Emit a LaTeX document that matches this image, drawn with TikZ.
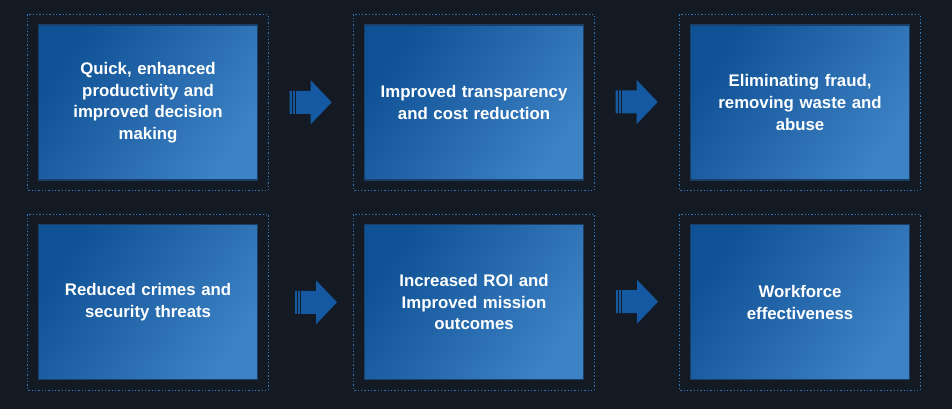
\documentclass[tikz,border=0pt]{standalone}
\usepackage{fontspec}
\setmainfont{Liberation Sans}
\definecolor{bg}{HTML}{131A23}
\definecolor{gA}{HTML}{0E5194}
\definecolor{gB}{HTML}{3D82C5}
\definecolor{edge}{HTML}{1A3F66}
\definecolor{dotc}{HTML}{3274B5}
\definecolor{arr}{HTML}{1459A2}
\pgfdeclarehorizontalshading{boxshade}{100bp}{color(0bp)=(gA); color(25bp)=(gA); color(75bp)=(gB); color(100bp)=(gB)}
\tikzset{
  innerbox/.style={draw=edge, line width=0.8pt, shading=boxshade, shading angle=-35},
  outerbox/.style={draw=dotc, line width=1pt, dash pattern=on 1pt off 1.5pt},
  label/.style={text=white, font=\bfseries\fontsize{12.6}{16.2}\selectfont, align=center, text width=150pt},
}
\newcommand{\stepbox}[4]{% name, x, y, text
  \draw[outerbox] (#2-10.5,#3-10.5) rectangle ++(240.5,176);
  \shade[innerbox] (#2,#3) rectangle ++(219.5,155);
  \node[label] (#1) at (#2+109.75,#3+77.5) {#4};
}
\newcommand{\flowarrow}[3]{% name, x, y (left, centre)
  \fill[arr] (#2,#3-11.5) -- (#2+21,#3-11.5) -- (#2+21,#3-22) -- (#2+42,#3) -- (#2+21,#3+22) -- (#2+21,#3+11.5) -- (#2,#3+11.5) -- cycle;
  \fill[bg] (#2+2.2,#3-12) rectangle (#2+3.1,#3+12);
  \fill[bg] (#2+5.0,#3-12) rectangle (#2+5.9,#3+12);
  \coordinate (#1) at (#2+21,#3);
}
\begin{document}
\begin{tikzpicture}[x=0.75pt,y=-0.75pt]
\fill[bg] (0,0) rectangle (952,409);
\useasboundingbox (0,0) rectangle (952,409);
\stepbox{b1}{38.3}{25}{Quick, enhanced\\productivity and\\improved decision\\making}
\stepbox{b2}{364.3}{25}{Improved transparency\\and cost reduction}
\stepbox{b3}{690.3}{25}{Eliminating fraud,\\removing waste and\\abuse}
\stepbox{b4}{38.3}{224.7}{Reduced crimes and\\security threats}
\stepbox{b5}{364.3}{224.7}{Increased ROI and\\Improved mission\\outcomes}
\stepbox{b6}{690.3}{224.7}{Workforce\\effectiveness}
\flowarrow{a1}{289.7}{102.3}
\flowarrow{a2}{615.7}{102}
\flowarrow{a3}{295}{302.3}
\flowarrow{a4}{616}{301.7}
\end{tikzpicture}
\end{document}
